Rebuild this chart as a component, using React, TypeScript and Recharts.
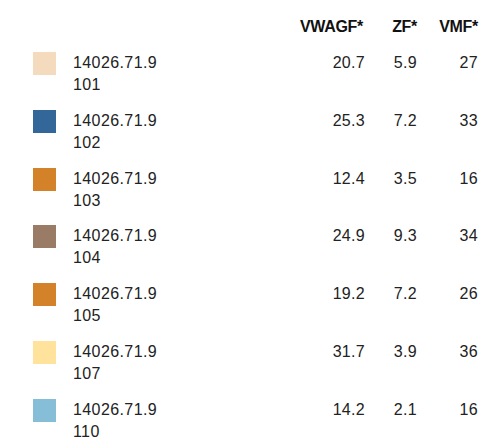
import React from 'react';
import { PieChart, Pie, Cell, Legend } from 'recharts';

// Series / table data
const CODES = ['14026.71.9', '14026.71.9', '14026.71.9', '14026.71.9', '14026.71.9', '14026.71.9', '14026.71.9'];
const IDS = ['101', '102', '103', '104', '105', '107', '110'];
const VWAGF = [20.7, 25.3, 12.4, 24.9, 19.2, 31.7, 14.2];
const ZF = [5.9, 7.2, 3.5, 9.3, 7.2, 3.9, 2.1];
const VMF = [27, 33, 16, 34, 26, 36, 16];
const HEADERS = ['VWAGF*', 'ZF*', 'VMF*'];

const COLORS = ['#F5DBBD', '#336699', '#D4822A', '#9A7B66', '#D4822A', '#FFE29B', '#86BED8'];

const data = IDS.map((id, i) => ({
  name: `${CODES[i]} ${id}`,
  vwagf: VWAGF[i],
  zf: ZF[i],
  vmf: VMF[i],
  fill: COLORS[i],
}));

const ROW_TOP = 44;
const ROW_STEP = 57.8;
const COL_RIGHT = [357, 409, 470];
const HEAD_RIGHT = [355, 409, 470];
const TEXT = '#222';

const TableLegend = ({ payload }: any) => {
  const items = payload && payload.length ? payload : data.map((d) => ({ value: d.name, color: d.fill }));
  return (
    <div style={{ position: 'relative', width: 495, height: 446, fontFamily: '"Liberation Sans", Arial, sans-serif', color: TEXT }}>
      {HEADERS.map((h, c) => (
        <div
          key={h}
          style={{
            position: 'absolute',
            top: 8,
            right: 495 - HEAD_RIGHT[c],
            fontSize: 16,
            lineHeight: '22px',
            fontWeight: 'bold',
            color: '#111',
            whiteSpace: 'nowrap',
            letterSpacing: -0.3,
          }}
        >
          {h}
        </div>
      ))}
      {items.map((entry: any, i: number) => {
        const top = ROW_TOP + i * ROW_STEP;
        const [code, id] = String(entry.value).split(' ');
        const vals = [VWAGF[i].toFixed(1), ZF[i].toFixed(1), String(VMF[i])];
        return (
          <React.Fragment key={`row-${i}`}>
            <div
              style={{
                position: 'absolute',
                left: 25,
                top,
                width: 23,
                height: 23,
                background: entry.color || COLORS[i],
              }}
            />
            <div style={{ position: 'absolute', left: 65, top, fontSize: 16, lineHeight: '22px', letterSpacing: 0.4 }}>
              <div>{code}</div>
              <div>{id}</div>
            </div>
            {vals.map((v, c) => (
              <div
                key={c}
                style={{
                  position: 'absolute',
                  top,
                  right: 495 - COL_RIGHT[c],
                  fontSize: 16,
                  lineHeight: '22px',
                  letterSpacing: 0.3,
                  whiteSpace: 'nowrap',
                }}
              >
                {v}
              </div>
            ))}
          </React.Fragment>
        );
      })}
    </div>
  );
};

export default function App() {
  return (
    <PieChart width={495} height={446} margin={{ top: 0, right: 0, bottom: 0, left: 0 }}>
      <Pie
        data={data}
        dataKey="vmf"
        nameKey="name"
        cx={-50}
        cy={-50}
        outerRadius={0}
        isAnimationActive={false}
        stroke="none"
      >
        {data.map((d, i) => (
          <Cell key={`cell-${i}`} fill={d.fill} />
        ))}
      </Pie>
      <Legend
        content={<TableLegend />}
        layout="vertical"
        verticalAlign="top"
        align="left"
        wrapperStyle={{ top: 0, left: 0, width: 495, height: 446 }}
      />
    </PieChart>
  );
}
